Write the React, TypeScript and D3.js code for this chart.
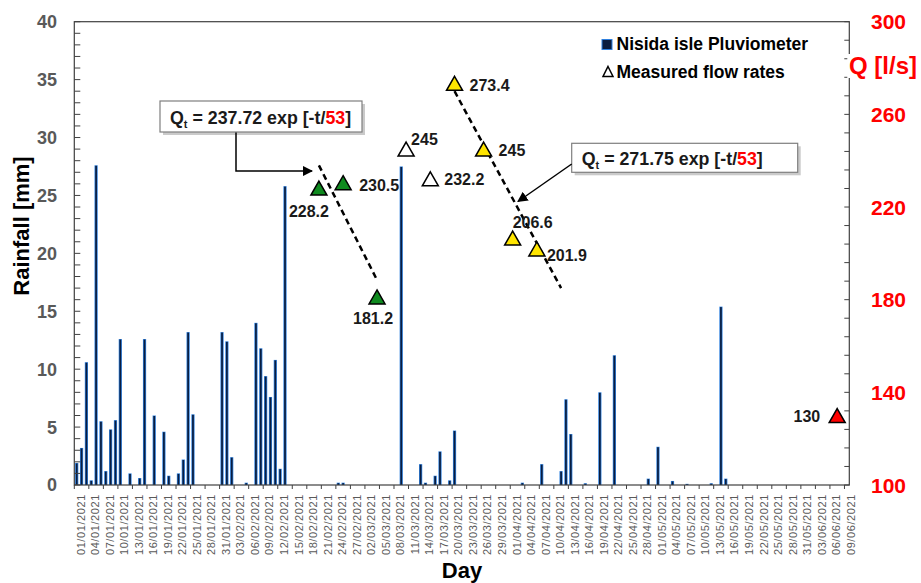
import React from "react";
import * as d3 from "d3";

// ---------- data ----------
const startDate = "2021-01-01";
const endDate = "2021-06-09";

const rainDates = [
  "2021-01-01","2021-01-02","2021-01-03","2021-01-04","2021-01-05","2021-01-06","2021-01-07","2021-01-08","2021-01-09","2021-01-10",
  "2021-01-12","2021-01-14","2021-01-15","2021-01-17","2021-01-19","2021-01-20","2021-01-22","2021-01-23","2021-01-24","2021-01-25",
  "2021-01-31","2021-02-01","2021-02-02","2021-02-05","2021-02-07","2021-02-08","2021-02-09","2021-02-10","2021-02-11","2021-02-12",
  "2021-02-13","2021-02-24","2021-02-25","2021-03-09","2021-03-13","2021-03-14","2021-03-16","2021-03-17","2021-03-19","2021-03-20",
  "2021-04-03","2021-04-07","2021-04-11","2021-04-12","2021-04-13","2021-04-16","2021-04-19","2021-04-22","2021-04-29","2021-05-01",
  "2021-05-04","2021-05-07","2021-05-12","2021-05-14","2021-05-15",
];
const rainMm = [
  1.9, 3.2, 10.6, 0.4, 27.6, 5.5, 1.2, 4.8, 5.6, 12.6,
  1.0, 0.6, 12.6, 6.0, 4.6, 0.8, 1.0, 2.2, 13.2, 6.1,
  13.2, 12.4, 2.4, 0.2, 14.0, 11.8, 9.4, 7.6, 10.8, 1.4,
  25.8, 0.2, 0.2, 27.5, 1.8, 0.2, 0.8, 2.9, 0.4, 4.7,
  0.2, 1.8, 1.2, 7.4, 4.4, 0.15, 8.0, 11.2, 0.55, 3.3,
  0.35, 0.1, 0.15, 15.4, 0.55,
];

const flowDates = ["2021-02-20","2021-02-25","2021-03-04","2021-03-10","2021-03-15","2021-03-20","2021-03-26","2021-04-01","2021-04-06","2021-06-07"];
const flowQ = [228.2, 230.5, 181.2, 245, 232.2, 273.4, 245, 206.6, 201.9, 130];
const flowGroup = ["green","green","green","white","white","yellow","yellow","yellow","yellow","red"];
const flowLabels = ["228.2","230.5","181.2","245","232.2","273.4","245","206.6","201.9","130"];

// fitted decay lines (start/end)
const fit1Dates = ["2021-02-20","2021-03-04"];
const fit1Q = [238, 188.5];
const fit2Dates = ["2021-03-20","2021-04-11"];
const fit2Q = [270, 185];

const leftTicks = [0, 5, 10, 15, 20, 25, 30, 35, 40];
const rightTicks = [100, 140, 180, 220, 260, 300];

// ---------- layout / style ----------
const W = 921, H = 583;
const L = 74.3, R = 849.3, T = 21.7, B = 485;
const FONT = "'Liberation Sans', Arial, sans-serif";
const groupFill: Record<string, string> = { green: "#0f8a1f", white: "#ffffff", yellow: "#ffe500", red: "#ff0000" };
const labelOffsets = [
  [-30, 29, "start"], [16, 8, "start"], [-4, 27, "middle"], [5, -4, "start"], [14, 6, "start"],
  [15, 7.5, "start"], [15, 7, "start"], [0, -10, "start"], [10, 12.5, "start"], [-17, 6.5, "end"],
] as const;

const parse = d3.timeParse("%Y-%m-%d");
const fmt = d3.timeFormat("%d/%m/%Y");
const allDays = d3.timeDay.range(parse(startDate)!, d3.timeDay.offset(parse(endDate)!, 1));
const dayKeys = allDays.map((d) => fmt(d));
const key = (s: string) => fmt(parse(s)!);

export default function App() {
  const x = d3.scaleBand<string>().domain(dayKeys).range([L, R]).padding(0);
  const bw = x.bandwidth();
  const cx = (s: string) => (x(key(s)) ?? 0) + bw / 2;
  const yL = d3.scaleLinear().domain([0, 40]).range([B, T]);
  const yR = d3.scaleLinear().domain([100, 300]).range([B, T]);

  const minorLeft = d3.range(0, 41, 1);
  const minorRight = d3.range(100, 301, 8);
  const labelIdx = d3.range(0, dayKeys.length, 3);

  const tri = (px: number, py: number, w = 16, h = 14) =>
    `M${px},${py - h / 2}L${px + w / 2},${py + h / 2}L${px - w / 2},${py + h / 2}Z`;

  const line = d3.line<[number, number]>();
  const fit1 = line(fit1Dates.map((d, i) => [cx(d), yR(fit1Q[i])]));
  const fit2 = line(fit2Dates.map((d, i) => [cx(d), yR(fit2Q[i])]));

  return (
    <svg width={W} height={H} style={{ display: "block", position: "absolute", left: 0, top: 0 }} fontFamily={FONT}>
      <defs>
        <marker id="arr" viewBox="0 0 10 10" refX="9" refY="5" markerWidth="7" markerHeight="7" orient="auto-start-reverse">
          <path d="M0,0L10,5L0,10Z" fill="#000" />
        </marker>
      </defs>
      <rect width={W} height={H} fill="#fff" />

      {/* bars */}
      {rainDates.map((d, i) => {
        const xc = cx(d);
        const y0 = yL(rainMm[i]);
        return (
          <g key={"b" + i}>
            <rect x={xc - 1.6} y={y0} width={3.2} height={B - y0} fill="#2f80de" />
            <rect x={xc - 0.85} y={y0 + 0.5} width={1.7} height={Math.max(0, B - y0 - 0.5)} fill="#0a1d3f" />
          </g>
        );
      })}

      {/* frame */}
      <rect x={L} y={T} width={R - L} height={B - T} fill="none" stroke="#404040" strokeWidth={1.2} />

      {/* left ticks */}
      {minorLeft.map((v) => (
        <line key={"lt" + v} x1={L} x2={L + 6} y1={yL(v)} y2={yL(v)} stroke="#404040" strokeWidth={1} />
      ))}
      {leftTicks.map((v) => (
        <text key={"ll" + v} x={57} y={yL(v)} dy="0.36em" textAnchor="end" fontSize={18} fontWeight="bold" fill="#595959">
          {v}
        </text>
      ))}

      {/* right ticks */}
      {minorRight.map((v) => (
        <line key={"rt" + v} x1={R - 5} x2={R} y1={yR(v)} y2={yR(v)} stroke="#404040" strokeWidth={1} />
      ))}
      {rightTicks.map((v) => (
        <text key={"rl" + v} x={888.5} y={yR(v)} dy="0.36em" textAnchor="middle" fontSize={21} fontWeight="bold" fill="#ff0000">
          {v}
        </text>
      ))}

      {/* x ticks & labels */}
      {labelIdx.map((i) => (
        <line key={"xt" + i} x1={x(dayKeys[i])!} x2={x(dayKeys[i])!} y1={B} y2={B + 4} stroke="#404040" strokeWidth={1} />
      ))}
      {labelIdx.map((i) => {
        const px = (x(dayKeys[i]) ?? 0) + bw / 2 + 4;
        return (
          <text key={"xl" + i} transform={`translate(${px},${B + 9}) rotate(-90)`} dy="0.35em" textAnchor="end"
            fontSize={11} letterSpacing={0.6} fill="#595959">
            {dayKeys[i]}
          </text>
        );
      })}

      {/* axis titles */}
      <text transform={`translate(21,226) rotate(-90)`} dy="0.35em" textAnchor="middle" fontSize={22} fontWeight="bold" fill="#000">
        Rainfall [mm]
      </text>
      <text x={462} y={578} textAnchor="middle" fontSize={22} fontWeight="bold" fill="#000">Day</text>
      <rect x={R - 2} y={54} width={72} height={24} fill="#fff" />
      <text x={849} y={74} fontSize={24} fontWeight="bold" fill="#ff0000">Q [l/s]</text>

      {/* legend */}
      <rect x={602} y={39.5} width={10} height={10} fill="#0a1d3f" stroke="#2f80de" strokeWidth={1} />
      <text x={616.5} y={50} fontSize={17.5} fontWeight="bold" fill="#000">Nisida isle Pluviometer</text>
      <path d={tri(608, 71.5, 10, 10)} fill="#fff" stroke="#000" strokeWidth={1.5} />
      <text x={616.5} y={77.5} fontSize={17.5} fontWeight="bold" fill="#000">Measured flow rates</text>

      {/* fit lines */}
      <path d={fit1 ?? ""} fill="none" stroke="#000" strokeWidth={2.5} strokeDasharray="6,4" />
      <path d={fit2 ?? ""} fill="none" stroke="#000" strokeWidth={2.5} strokeDasharray="6,4" />

      {/* flow points */}
      {flowDates.map((d, i) => {
        const px = cx(d), py = yR(flowQ[i]);
        const [dx, dy, anchor] = labelOffsets[i];
        return (
          <g key={"f" + i}>
            <path d={tri(px, py)} fill={groupFill[flowGroup[i]]} stroke="#000" strokeWidth={1.5} strokeLinejoin="miter" />
            <text x={px + dx} y={py + dy} textAnchor={anchor} fontSize={16} fontWeight="bold" fill="#1a1a1a">
              {flowLabels[i]}
            </text>
          </g>
        );
      })}

      {/* annotation 1 */}
      <rect x={163} y={104} width={202} height={31} fill="#a6a6a6" opacity={0.6} />
      <rect x={160} y={101} width={202} height={31} fill="#fff" stroke="#7f7f7f" strokeWidth={1.2} />
      <text x={170} y={124} fontSize={17.8} fontWeight="bold" fill="#1a1a1a">
        Q<tspan fontSize={11} dy={4}>t</tspan>
        <tspan dy={-4}> = 237.72 exp [-t/</tspan>
        <tspan fill="#ff0000">53</tspan>]
      </text>
      <path d="M236,132.5V171H312" fill="none" stroke="#000" strokeWidth={1.5} markerEnd="url(#arr)" />

      {/* annotation 2 */}
      <rect x={574.7} y={146.3} width={226} height={29} fill="#a6a6a6" opacity={0.6} />
      <rect x={571.7} y={143.3} width={226} height={29} fill="#fff" stroke="#7f7f7f" strokeWidth={1.2} />
      <text x={581.7} y={165} fontSize={17.8} fontWeight="bold" fill="#1a1a1a">
        Q<tspan fontSize={11} dy={4}>t</tspan>
        <tspan dy={-4}> = 271.75 exp [-t/</tspan>
        <tspan fill="#ff0000">53</tspan>]
      </text>
      <path d="M571.7,164L518,201.5" fill="none" stroke="#000" strokeWidth={1.5} markerEnd="url(#arr)" />
    </svg>
  );
}
